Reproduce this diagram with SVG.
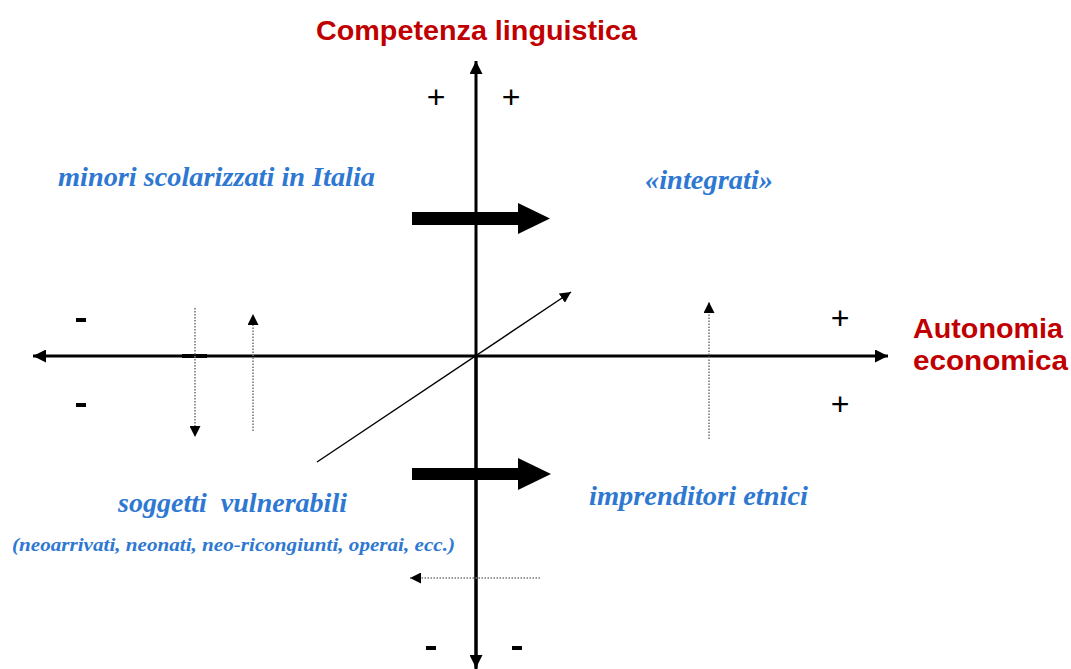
<svg xmlns="http://www.w3.org/2000/svg" width="1071" height="669" viewBox="0 0 1071 669">
<defs>
<style>
.axis{stroke:#000;stroke-width:3;fill:none}
.dot{stroke:#777;stroke-width:1.6;stroke-dasharray:1.5 1.5;fill:none}
.thin{stroke:#000;stroke-width:1.4;fill:none}
.red{font-family:"Liberation Sans",Arial,sans-serif;font-weight:bold;fill:#c00000;font-size:27px}
.blue{font-family:"Liberation Serif","Times New Roman",serif;font-weight:bold;font-style:italic;fill:#2e78d2;font-size:27px}
.sign{font-family:"Liberation Sans",Arial,sans-serif;fill:#000;font-size:32px;text-anchor:middle}
.minus{fill:#000}
</style>
<marker id="ah" viewBox="0 0 10 10" refX="10" refY="5" markerWidth="13" markerHeight="13" markerUnits="userSpaceOnUse" orient="auto">
<path d="M0,0 L10,5 L0,10 z" fill="#000"/>
</marker>
<marker id="ahs" viewBox="0 0 10 10" refX="10" refY="5" markerWidth="11" markerHeight="11" markerUnits="userSpaceOnUse" orient="auto">
<path d="M0,0 L10,5 L0,10 z" fill="#000"/>
</marker>
</defs>
<rect width="1071" height="669" fill="#fff"/>

<g id="connectors">
<line class="axis" x1="476" y1="669" x2="476" y2="61" marker-end="url(#ah)"/>
<line class="axis" x1="476" y1="356" x2="476" y2="668" marker-end="url(#ah)"/>
<line class="axis" x1="476" y1="356" x2="33" y2="356" marker-end="url(#ah)"/>
<line class="axis" x1="476" y1="356" x2="888" y2="356" marker-end="url(#ah)"/>
<rect x="182" y="354" width="25" height="4" fill="#000"/>
<line class="thin" x1="317" y1="462" x2="571" y2="292" marker-end="url(#ahs)"/>
<line class="dot" x1="195" y1="308" x2="195" y2="437" marker-end="url(#ahs)"/>
<line class="dot" x1="253" y1="431" x2="253" y2="314" marker-end="url(#ahs)"/>
<line class="dot" x1="709" y1="439" x2="709" y2="302" marker-end="url(#ahs)"/>
<line class="dot" x1="540" y1="578" x2="410" y2="578" marker-end="url(#ahs)"/>
<path d="M412,212 H518 V203 L550,218.5 L518,234 V225 H412 Z" fill="#000"/>
<path d="M412,468 H518 V458 L551,474 L518,490 V480 H412 Z" fill="#000"/>
</g>

<g id="title-y"><text class="red" x="316" y="40" textLength="321" lengthAdjust="spacingAndGlyphs">Competenza linguistica</text></g>
<g id="title-x">
<text class="red" x="913" y="338" textLength="150" lengthAdjust="spacingAndGlyphs">Autonomia</text>
<text class="red" x="913" y="370" textLength="155" lengthAdjust="spacingAndGlyphs">economica</text>
</g>

<g id="signs">
<text class="sign" x="436" y="108">+</text>
<text class="sign" x="511" y="108">+</text>
<text class="sign" x="840" y="329">+</text>
<text class="sign" x="840" y="415">+</text>
<rect class="minus" x="76" y="318" width="10" height="4"/>
<rect class="minus" x="76" y="403" width="10" height="4"/>
<rect class="minus" x="426" y="646" width="10" height="4"/>
<rect class="minus" x="512" y="646" width="10" height="4"/>
</g>

<g id="minori"><text class="blue" x="58" y="186" textLength="317" lengthAdjust="spacingAndGlyphs">minori scolarizzati in Italia</text></g>
<g id="integrati"><text class="blue" x="645" y="189" textLength="128" lengthAdjust="spacingAndGlyphs">«integrati»</text></g>
<g id="vulnerabili">
<text class="blue" x="118" y="512" textLength="229" lengthAdjust="spacingAndGlyphs" xml:space="preserve">soggetti  vulnerabili</text>
<text class="blue" x="12" y="551" style="font-size:19px" textLength="443" lengthAdjust="spacingAndGlyphs">(neoarrivati, neonati, neo-ricongiunti, operai, ecc.)</text>
</g>
<g id="imprenditori"><text class="blue" x="589" y="505" textLength="219" lengthAdjust="spacingAndGlyphs">imprenditori etnici</text></g>
</svg>
